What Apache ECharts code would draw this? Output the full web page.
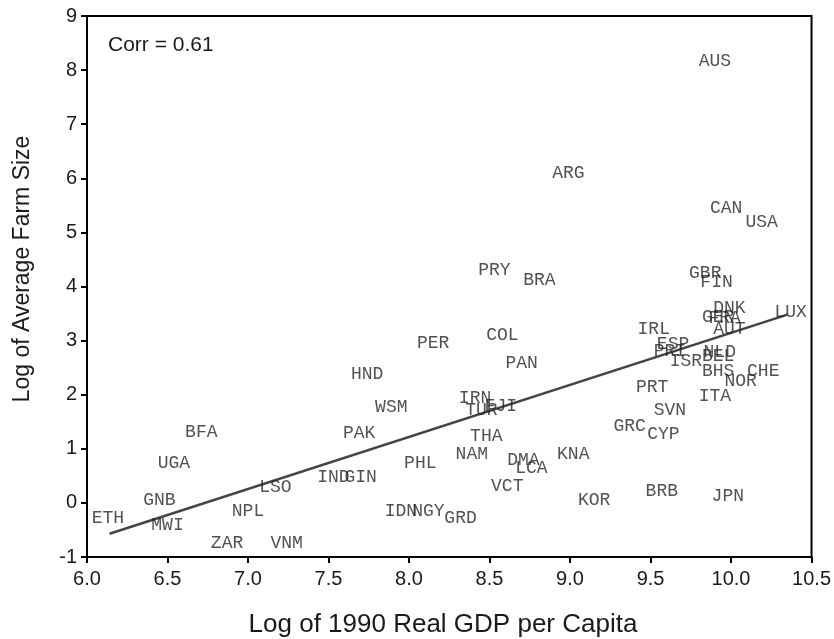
<!DOCTYPE html>
<html>
<head>
<meta charset="utf-8">
<script src="https://cdn.jsdelivr.net/npm/echarts@6/dist/echarts.min.js"></script>
<style>
html,body{margin:0;padding:0;background:#fff;}
#chart{width:834px;height:639px;}
</style>
</head>
<body>
<div id="chart"></div>
<script>
// Country codes
var countries = ["AUS","ARG","CAN","USA","PRY","BRA","GBR","FIN","DNK","GER","FRA","AUT","LUX",
  "IRL","ESP","PRI","NLD","BEL","ISR","BHS","NOR","CHE","PRT","ITA","SVN","GRC","CYP","BRB","JPN","KOR",
  "IRN","TUR","FJI","THA","NAM","DMA","LCA","KNA","VCT","PER","COL","PAN","HND","WSM","PAK","PHL",
  "IND","GIN","IDN","NGY","GRD","BFA","UGA","GNB","ETH","MWI","NPL","LSO","ZAR","VNM"];
// Log of 1990 real GDP per capita
var logGdp = [9.90,8.99,9.97,10.19,8.53,8.81,9.84,9.91,9.99,9.92,9.96,9.99,10.37,
  9.52,9.64,9.62,9.93,9.92,9.72,9.92,10.06,10.20,9.51,9.90,9.62,9.37,9.58,9.57,9.98,9.15,
  8.41,8.45,8.57,8.48,8.39,8.71,8.76,9.02,8.61,8.15,8.58,8.70,7.74,7.89,7.69,8.07,
  7.53,7.70,7.95,8.12,8.32,6.71,6.54,6.45,6.13,6.50,7.00,7.17,6.87,7.24];
// Log of average farm size
var logFarm = [8.16,6.10,5.45,5.18,4.30,4.12,4.24,4.08,3.60,3.44,3.42,3.21,3.53,
  3.21,2.94,2.81,2.79,2.72,2.61,2.43,2.25,2.43,2.14,1.97,1.72,1.41,1.27,0.21,0.13,0.05,
  1.93,1.72,1.79,1.24,0.90,0.79,0.64,0.90,0.30,2.95,3.10,2.58,2.38,1.77,1.29,0.73,
  0.48,0.48,-0.15,-0.15,-0.28,1.30,0.73,0.05,-0.28,-0.42,-0.16,0.29,-0.75,-0.75];
// Fitted line end points
var fitX = [6.14, 10.35];
var fitY = [-0.57, 3.48];
// Axis ticks
var xMin = 6.0, xMax = 10.5, xStep = 0.5;
var yMin = -1, yMax = 9, yStep = 1;
var corrText = "Corr = 0.61";
var xTitle = "Log of 1990 Real GDP per Capita";
var yTitle = "Log of Average Farm Size";

var pts = countries.map(function(c, i){ return {name: c, value: [logGdp[i], logFarm[i]]}; });
var fitData = fitX.map(function(x, i){ return [x, fitY[i]]; });

var chart = echarts.init(document.getElementById('chart'), null, {renderer: 'canvas'});
var sans = "'Liberation Sans', Arial, Helvetica, sans-serif";
chart.setOption({
  animation: false,
  backgroundColor: '#fff',
  grid: {left: 87, right: 19, top: 16, bottom: 82, show: true, borderColor: '#000', borderWidth: 2, backgroundColor: 'transparent'},
  xAxis: {
    type: 'value', min: xMin, max: xMax, interval: xStep,
    axisLine: {show: true, onZero: false, lineStyle: {color: '#000', width: 2}},
    axisTick: {show: true, length: 6, lineStyle: {color: '#000', width: 2}},
    splitLine: {show: false},
    axisLabel: {margin: 12, color: '#1a1a1a', fontSize: 20, fontFamily: sans,
      formatter: function(v){ return v.toFixed(1); }}
  },
  yAxis: {
    type: 'value', min: yMin, max: yMax, interval: yStep,
    axisLine: {show: true, onZero: false, lineStyle: {color: '#000', width: 2}},
    axisTick: {show: true, length: 6, lineStyle: {color: '#000', width: 2}},
    splitLine: {show: false},
    axisLabel: {margin: 10, color: '#1a1a1a', fontSize: 20, fontFamily: sans}
  },
  graphic: [
    {type: 'text', left: 108, top: 35, style: {text: corrText, fontSize: 21, fontFamily: sans, fill: '#1a1a1a'}},
    {type: 'text', x: 443, y: 625, style: {text: xTitle, fontSize: 26, fontFamily: sans, fill: '#1a1a1a', align: 'center', verticalAlign: 'middle'}},
    {type: 'text', x: 23, y: 269, rotation: Math.PI/2, style: {text: yTitle, fontSize: 23, fontFamily: sans, fill: '#1a1a1a', align: 'center', verticalAlign: 'middle'}}
  ],
  series: [
    {
      type: 'line', data: fitData, symbol: 'none', silent: true,
      lineStyle: {color: '#444', width: 2.5}, z: 2
    },
    {
      type: 'scatter', data: pts, symbolSize: 1, itemStyle: {color: 'transparent'}, z: 3,
      label: {show: true, position: 'inside', formatter: '{b}', color: '#262626',
        fontSize: 18, fontFamily: "'Liberation Mono', 'Courier New', monospace"}
    }
  ]
});
</script>
</body>
</html>
